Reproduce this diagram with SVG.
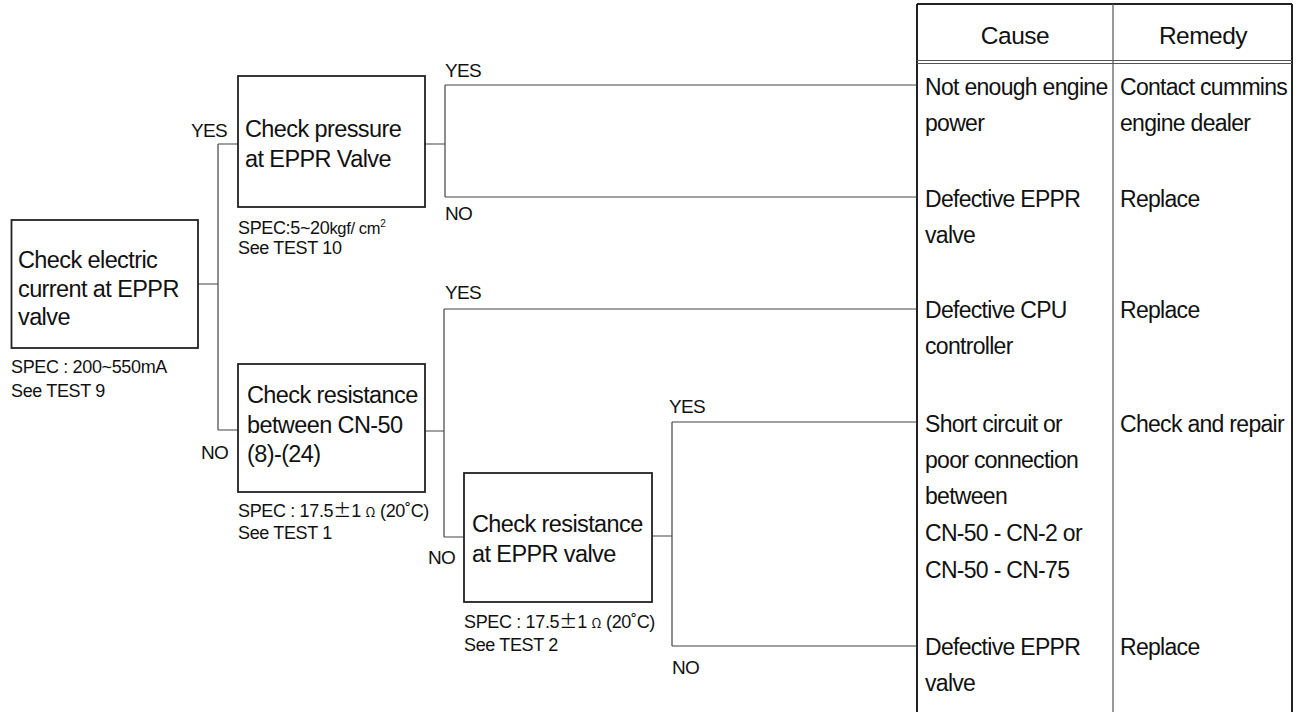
<svg xmlns="http://www.w3.org/2000/svg" width="1302" height="712" viewBox="0 0 1302 712">
<style>
  text { font-family: "Liberation Sans", Arial, sans-serif; fill: #111; }
  .box { fill: #fff; stroke: #222; stroke-width: 1.8; }
  .bt { font-size: 23.5px; letter-spacing: -0.6px; }
  .spec { font-size: 18px; letter-spacing: -0.35px; }
  .lbl { font-size: 19px; letter-spacing: -0.7px; }
  .hd { font-size: 24.5px; letter-spacing: -0.5px; text-anchor: middle; }
  .row { font-size: 23px; letter-spacing: -0.7px; }
  .cn { fill: none; stroke: #444; stroke-width: 1.2; }
  .tb { fill: none; stroke: #222; stroke-width: 2; }
  .tm { fill: none; stroke: #555; stroke-width: 1.2; }
  .cjk { font-family: "Noto Sans CJK KR", "Liberation Sans", sans-serif; letter-spacing: 0; }
</style>

<g id="connectors">
  <path class="cn" d="M198 284 H218 M218 144 V430 M218 144 H238 M218 430 H238"/>
  <path class="cn" d="M425 144 H445 M445 85 V197 M445 85 H917 M445 197 H917"/>
  <path class="cn" d="M425 431 H444 M444 309 V537 M444 309 H917 M444 537 H464"/>
  <path class="cn" d="M652 536 H672 M672 422 V646 M672 422 H917 M672 646 H917"/>
  <text class="lbl" x="191" y="137">YES</text>
  <text class="lbl" x="201" y="459">NO</text>
  <text class="lbl" x="445" y="77">YES</text>
  <text class="lbl" x="445" y="220">NO</text>
  <text class="lbl" x="445" y="299">YES</text>
  <text class="lbl" x="428" y="564">NO</text>
  <text class="lbl" x="669" y="413">YES</text>
  <text class="lbl" x="672" y="674">NO</text>
</g>

<g id="node-current">
  <rect class="box" x="11.5" y="220" width="186.5" height="128"/>
  <text class="bt" x="18" y="268">Check electric</text>
  <text class="bt" x="18" y="297">current at EPPR</text>
  <text class="bt" x="18" y="325">valve</text>
  <text class="spec" x="11" y="373">SPEC : 200~550mA</text>
  <text class="spec" x="11" y="397">See TEST 9</text>
</g>

<g id="node-pressure">
  <rect class="box" x="238" y="76" width="187" height="131"/>
  <text class="bt" x="245" y="137">Check pressure</text>
  <text class="bt" x="245" y="167">at EPPR Valve</text>
  <text class="spec" x="238" y="234">SPEC:5~20<tspan font-size="16.5">kgf/ cm</tspan><tspan font-size="10" dy="-7">2</tspan></text>
  <text class="spec" x="238" y="254">See TEST 10</text>
</g>

<g id="node-resistance-cn50">
  <rect class="box" x="238" y="364" width="187" height="128"/>
  <text class="bt" x="247" y="403">Check resistance</text>
  <text class="bt" x="247" y="433">between CN-50</text>
  <text class="bt" x="247" y="462">(8)-(24)</text>
  <text class="spec" x="238" y="517">SPEC : 17.5<tspan class="cjk">±</tspan>1 <tspan class="cjk" font-size="13">Ω</tspan> (20˚C)</text>
  <text class="spec" x="238" y="539">See TEST 1</text>
</g>

<g id="node-resistance-eppr">
  <rect class="box" x="464" y="473" width="188" height="129"/>
  <text class="bt" x="472" y="532">Check resistance</text>
  <text class="bt" x="472" y="562">at EPPR valve</text>
  <text class="spec" x="464" y="628">SPEC : 17.5<tspan class="cjk">±</tspan>1 <tspan class="cjk" font-size="13">Ω</tspan> (20˚C)</text>
  <text class="spec" x="464" y="651">See TEST 2</text>
</g>

<g id="table">
  <path class="tb" d="M917 4 H1292 M917 4 V712 M1292 4 V712"/>
  <path class="tm" d="M1113 4 V712 M917 60.5 H1292 M917 63.5 H1292"/>
  <text class="hd" x="1015" y="44">Cause</text>
  <text class="hd" x="1203" y="44">Remedy</text>
</g>

<g id="row-1">
  <text class="row" x="925" y="95">Not enough engine</text>
  <text class="row" x="925" y="131">power</text>
  <text class="row" x="1120" y="95">Contact cummins</text>
  <text class="row" x="1120" y="131">engine dealer</text>
</g>
<g id="row-2">
  <text class="row" x="925" y="207">Defective EPPR</text>
  <text class="row" x="925" y="243">valve</text>
  <text class="row" x="1120" y="207">Replace</text>
</g>
<g id="row-3">
  <text class="row" x="925" y="318">Defective CPU</text>
  <text class="row" x="925" y="354">controller</text>
  <text class="row" x="1120" y="318">Replace</text>
</g>
<g id="row-4">
  <text class="row" x="925" y="432">Short circuit or</text>
  <text class="row" x="925" y="468">poor connection</text>
  <text class="row" x="925" y="504">between</text>
  <text class="row" x="925" y="541">CN-50 - CN-2 or</text>
  <text class="row" x="925" y="578">CN-50 - CN-75</text>
  <text class="row" x="1120" y="432">Check and repair</text>
</g>
<g id="row-5">
  <text class="row" x="925" y="655">Defective EPPR</text>
  <text class="row" x="925" y="691">valve</text>
  <text class="row" x="1120" y="655">Replace</text>
</g>
</svg>
